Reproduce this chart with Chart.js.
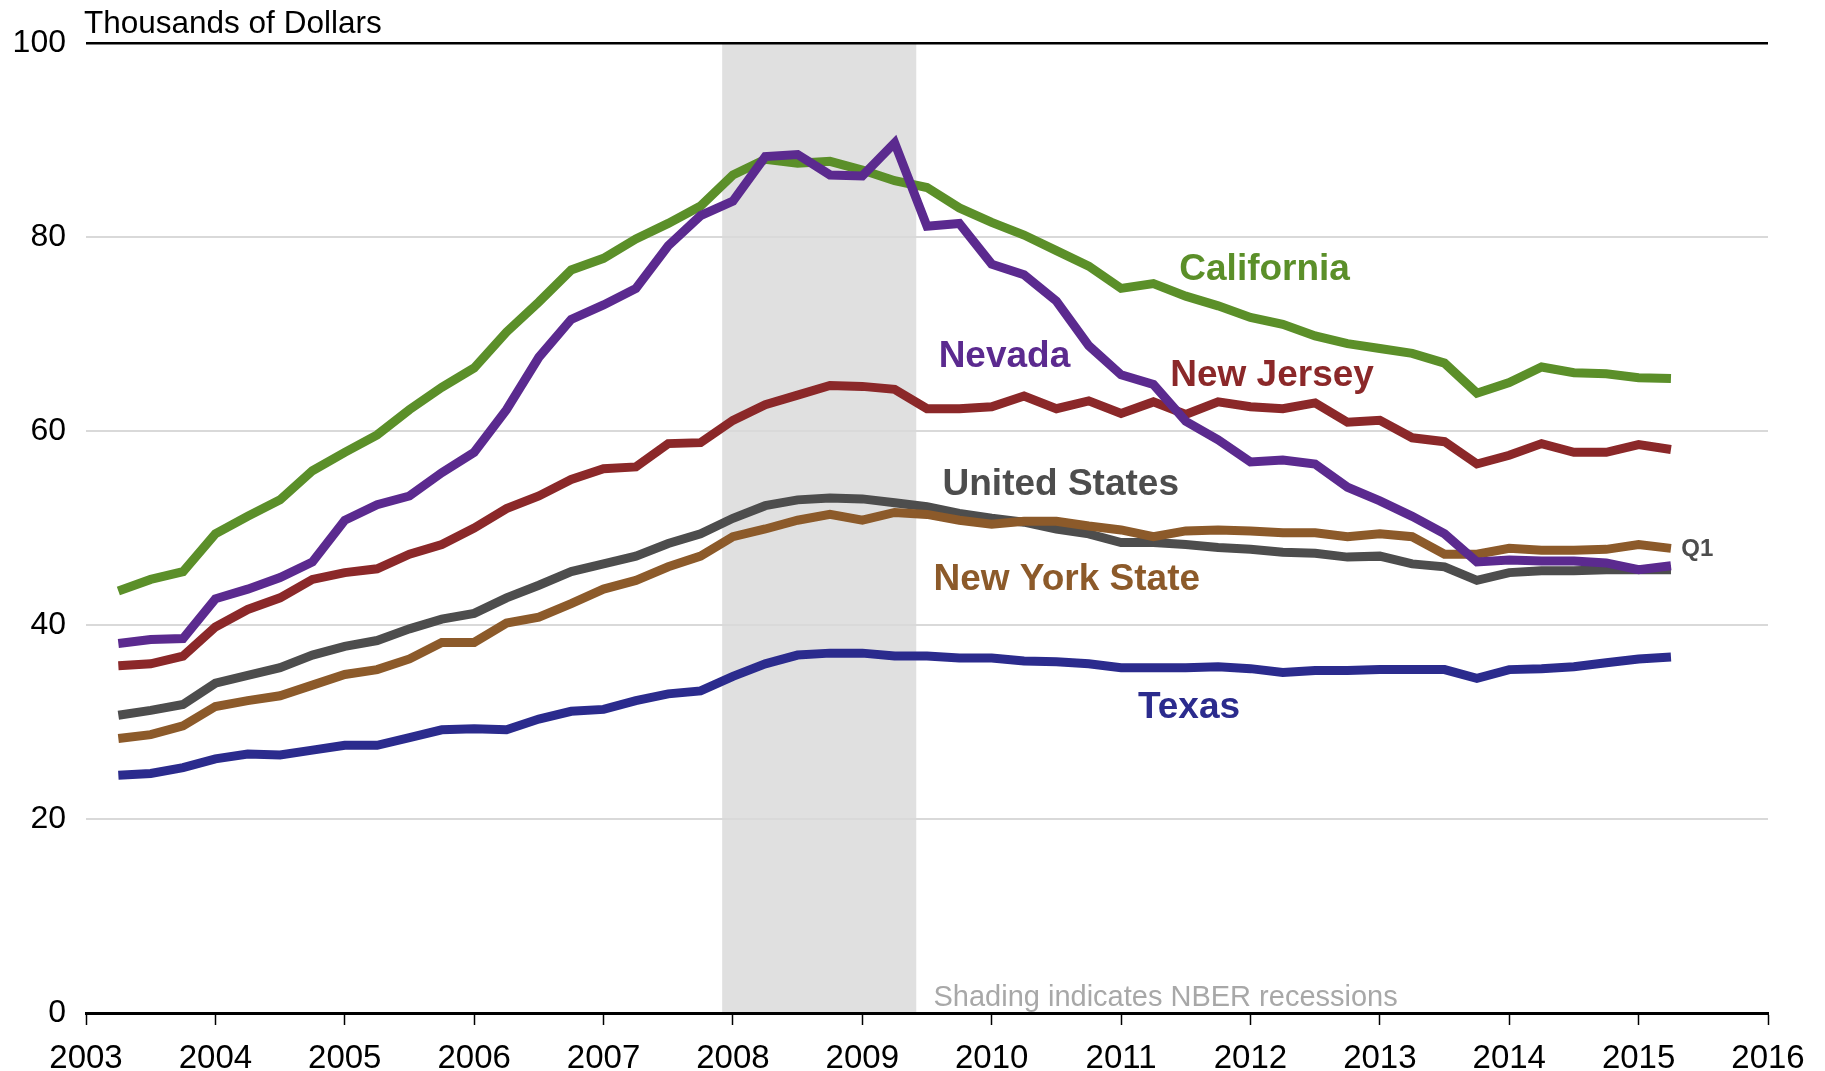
<!DOCTYPE html>
<html><head><meta charset="utf-8">
<script src="https://cdn.jsdelivr.net/npm/chart.js@4.4.1/dist/chart.umd.min.js"></script>
<style>html,body{margin:0;padding:0;background:#fff;}#c{display:block;}</style>
</head><body>
<canvas id="c" width="1825" height="1071"></canvas>
<script>
// ---- data ----
const quarters = [
 "2003Q1","2003Q2","2003Q3","2003Q4","2004Q1","2004Q2","2004Q3","2004Q4",
 "2005Q1","2005Q2","2005Q3","2005Q4","2006Q1","2006Q2","2006Q3","2006Q4",
 "2007Q1","2007Q2","2007Q3","2007Q4","2008Q1","2008Q2","2008Q3","2008Q4",
 "2009Q1","2009Q2","2009Q3","2009Q4","2010Q1","2010Q2","2010Q3","2010Q4",
 "2011Q1","2011Q2","2011Q3","2011Q4","2012Q1","2012Q2","2012Q3","2012Q4",
 "2013Q1","2013Q2","2013Q3","2013Q4","2014Q1","2014Q2","2014Q3","2014Q4",
 "2015Q1"];
const california = [43.5,44.7,45.5,49.4,51.2,52.9,55.9,57.8,59.6,62.2,64.5,66.5,70.2,73.3,76.6,77.8,79.8,81.4,83.2,86.4,88.0,87.6,87.8,86.9,85.8,85.1,83.0,81.5,80.2,78.6,77.0,74.7,75.2,73.9,72.9,71.7,71.0,69.8,69.0,68.5,68.0,67.0,63.9,65.0,66.6,66.0,65.9,65.5,65.4];
const nevada = [38.1,38.5,38.6,42.7,43.7,44.9,46.5,50.8,52.4,53.3,55.7,57.8,62.2,67.6,71.5,73.0,74.7,79.1,82.2,83.7,88.3,88.5,86.4,86.3,89.7,81.1,81.4,77.2,76.1,73.4,68.8,65.8,64.8,61.0,59.1,56.8,57.0,56.6,54.2,52.8,51.2,49.4,46.5,46.7,46.6,46.6,46.4,45.7,46.1];
const newJersey = [35.8,36.0,36.8,39.8,41.6,42.8,44.7,45.4,45.8,47.3,48.3,50.0,52.0,53.3,55.0,56.1,56.3,58.7,58.8,61.1,62.7,63.7,64.7,64.6,64.3,62.3,62.3,62.5,63.6,62.3,63.1,61.8,63.0,61.7,63.0,62.5,62.3,62.9,60.9,61.1,59.3,58.9,56.6,57.5,58.7,57.8,57.8,58.6,58.1];
const unitedStates = [30.7,31.2,31.8,34.0,34.8,35.6,36.9,37.8,38.4,39.6,40.6,41.2,42.8,44.1,45.5,46.3,47.1,48.4,49.4,51.0,52.3,52.9,53.1,53.0,52.6,52.2,51.5,51.0,50.6,49.9,49.4,48.5,48.5,48.3,48.0,47.8,47.5,47.4,47.0,47.1,46.3,46.0,44.6,45.4,45.6,45.6,45.7,45.7,45.7];
const newYorkState = [28.3,28.7,29.6,31.6,32.2,32.7,33.8,34.9,35.4,36.5,38.2,38.2,40.2,40.8,42.2,43.7,44.6,46.0,47.1,49.1,49.9,50.8,51.4,50.8,51.6,51.4,50.8,50.4,50.7,50.7,50.2,49.8,49.1,49.7,49.8,49.7,49.5,49.5,49.1,49.4,49.1,47.3,47.3,47.9,47.7,47.7,47.8,48.3,47.9];
const texas = [24.5,24.7,25.3,26.2,26.7,26.6,27.1,27.6,27.6,28.4,29.2,29.3,29.2,30.3,31.1,31.3,32.2,32.9,33.2,34.7,36.0,36.9,37.1,37.1,36.8,36.8,36.6,36.6,36.3,36.2,36.0,35.6,35.6,35.6,35.7,35.5,35.1,35.3,35.3,35.4,35.4,35.4,34.5,35.4,35.5,35.7,36.1,36.5,36.7];
const yTicks = [0,20,40,60,80,100];
const xTicks = [2003,2004,2005,2006,2007,2008,2009,2010,2011,2012,2013,2014,2015,2016];
const recession = [2007.917, 2009.417];
const yTitle = "Thousands of Dollars";
const shadingNote = "Shading indicates NBER recessions";
const lastLabel = "Q1";

// quarter "YYYYQn" plotted at end of quarter
const qx = q => Number(q.slice(0,4)) + Number(q.slice(5)) * 0.25;
const pts = vals => vals.map((v,i) => ({x: qx(quarters[i]), y: v}));

const series = [
  {name:"Nevada", vals:nevada, color:"#5b2a8f", lx:2009.59, ly:67.6},
  {name:"California", vals:california, color:"#5b8f29", lx:2011.45, ly:76.6},
  {name:"New Jersey", vals:newJersey, color:"#8b2829", lx:2011.38, ly:65.7},
  {name:"New York State", vals:newYorkState, color:"#8c5a2a", lx:2009.55, ly:44.7},
  {name:"United States", vals:unitedStates, color:"#4d4d4d", lx:2009.62, ly:54.5},
  {name:"Texas", vals:texas, color:"#2b2b8d", lx:2011.13, ly:31.5}
];

const FONT = "'Liberation Sans', Arial, Helvetica, sans-serif";
Chart.defaults.font.family = FONT;

const annot = {
  id: 'annot',
  beforeDraw(chart) {
    const {ctx, chartArea: a, scales: {x, y}} = chart;
    ctx.save();
    ctx.fillStyle = '#e0e0e0';
    const x0 = x.getPixelForValue(recession[0]), x1 = x.getPixelForValue(recession[1]);
    ctx.fillRect(x0, a.top, x1 - x0, a.bottom - a.top);
    ctx.restore();
  },
  afterDatasetsDraw(chart) {
    const {ctx, chartArea: a, scales: {x, y}} = chart;
    ctx.save();
    ctx.textAlign = 'left';
    ctx.textBaseline = 'middle';
    ctx.font = `bold 37px ${FONT}`;
    series.forEach(s => {
      ctx.fillStyle = s.color;
      ctx.fillText(s.name, x.getPixelForValue(s.lx), y.getPixelForValue(s.ly));
    });
    ctx.font = `bold 24px ${FONT}`;
    ctx.fillStyle = '#4d4d4d';
    ctx.fillText(lastLabel, x.getPixelForValue(2015.33), y.getPixelForValue(47.8));
    ctx.font = `29px ${FONT}`;
    ctx.fillStyle = '#a8a8a8';
    ctx.fillText(shadingNote, x.getPixelForValue(2009.55), y.getPixelForValue(1.55));
    ctx.font = `31.5px ${FONT}`;
    ctx.fillStyle = '#000';
    ctx.textBaseline = 'alphabetic';
    ctx.fillText(yTitle, a.left - 2, a.top - 10);
    ctx.restore();
  }
};

new Chart(document.getElementById('c'), {
  type: 'line',
  data: {
    datasets: series.map(s => ({
      label: s.name, data: pts(s.vals), borderColor: s.color, backgroundColor: s.color,
      borderWidth: 9, pointRadius: 0, tension: 0, fill: false,
      borderJoinStyle: 'miter', borderCapStyle: 'butt'
    }))
  },
  options: {
    responsive: false, animation: false, devicePixelRatio: 1,
    layout: {padding: {left: 0, right: 57, top: 43, bottom: 0}},
    plugins: {legend: {display: false}, tooltip: {enabled: false}, title: {display: false}},
    scales: {
      x: {
        type: 'linear', min: 2003, max: 2016,
        afterBuildTicks: sc => { sc.ticks = xTicks.map(v => ({value: v})); },
        afterFit: sc => { sc.height = 58; },
        ticks: {callback: v => String(v), color: '#000', font: {size: 33}, padding: 14, maxRotation: 0, autoSkip: false},
        grid: {drawOnChartArea: false, drawTicks: true, tickLength: 12, tickColor: '#000', tickWidth: 1.5, color: '#000'},
        border: {display: true, color: '#000', width: 3}
      },
      y: {
        min: 0, max: 100,
        afterBuildTicks: sc => { sc.ticks = yTicks.map(v => ({value: v})); },
        afterFit: sc => { sc.width = 86; },
        ticks: {color: '#000', font: {size: 32}, padding: 20},
        grid: {
          drawTicks: false,
          color: c => c.tick.value === 100 ? '#000' : (c.tick.value === 0 ? 'rgba(0,0,0,0)' : '#d9d9d9'),
          lineWidth: c => c.tick.value === 100 ? 2.5 : 2
        },
        border: {display: false}
      }
    }
  },
  plugins: [annot]
});
</script>
</body></html>
